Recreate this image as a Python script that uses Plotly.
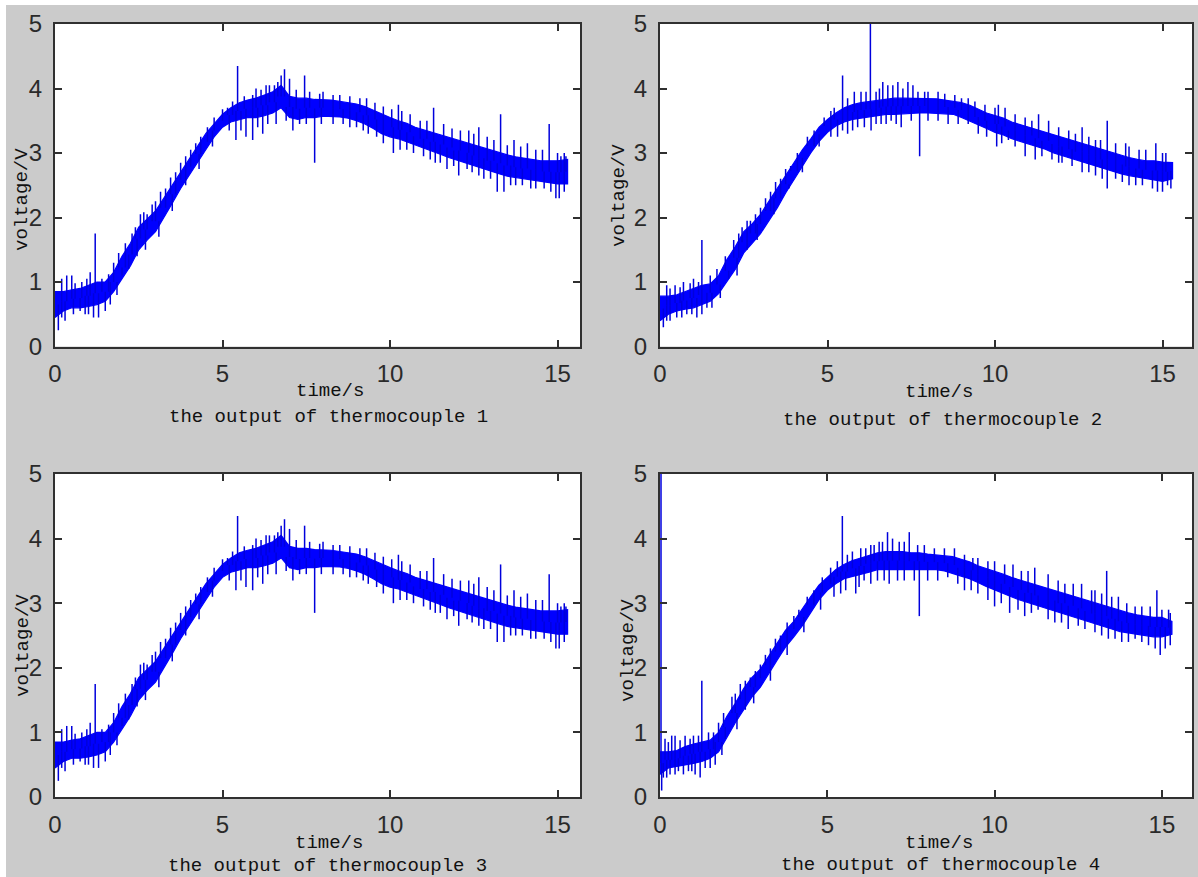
import plotly.graph_objects as go

# ---------------- data ----------------
TIME = [0.0, 0.25, 0.5, 0.75, 1.0, 1.25, 1.5, 1.75, 2.0, 2.25, 2.5, 2.75, 3.0, 3.25,
        3.5, 3.75, 4.0, 4.25, 4.5, 4.75, 5.0, 5.25, 5.5, 5.75, 6.0, 6.25, 6.5, 6.75,
        7.0, 7.25, 7.5, 7.75, 8.0, 8.25, 8.5, 8.75, 9.0, 9.25, 9.5, 9.75, 10.0, 10.25,
        10.5, 10.75, 11.0, 11.25, 11.5, 11.75, 12.0, 12.25, 12.5, 12.75, 13.0, 13.25,
        13.5, 13.75, 14.0, 14.25, 14.5, 14.75, 15.0, 15.3]

# thermocouple 1: lower / upper edge of the noise band
TC1_LOW = [0.45, 0.55, 0.60, 0.60, 0.62, 0.65, 0.70, 0.85, 1.05, 1.25, 1.50, 1.65, 1.78, 2.00,
           2.22, 2.45, 2.65, 2.85, 3.05, 3.25, 3.40, 3.48, 3.52, 3.55, 3.55, 3.58, 3.62, 3.70,
           3.55, 3.52, 3.55, 3.55, 3.57, 3.57, 3.56, 3.54, 3.50, 3.45, 3.38, 3.30, 3.25, 3.22,
           3.18, 3.12, 3.08, 3.03, 2.98, 2.93, 2.88, 2.85, 2.80, 2.76, 2.72, 2.68, 2.64, 2.62,
           2.60, 2.58, 2.55, 2.54, 2.52, 2.52]
TC1_HIGH = [0.85, 0.85, 0.88, 0.90, 0.95, 1.00, 1.00, 1.15, 1.40, 1.60, 1.85, 1.98, 2.10, 2.30,
            2.50, 2.72, 2.92, 3.12, 3.30, 3.45, 3.60, 3.70, 3.78, 3.82, 3.85, 3.90, 3.95, 4.05,
            3.88, 3.85, 3.85, 3.83, 3.83, 3.82, 3.80, 3.78, 3.76, 3.72, 3.66, 3.60, 3.55, 3.50,
            3.46, 3.40, 3.36, 3.32, 3.28, 3.24, 3.20, 3.16, 3.12, 3.08, 3.04, 3.00, 2.97, 2.94,
            2.92, 2.90, 2.88, 2.88, 2.88, 2.90]
TC1_SPIKE_T = [0.2, 0.35, 0.5, 0.8, 1.05, 1.2, 1.4, 1.9, 2.1, 2.3, 2.55, 2.75, 3.0, 3.3, 3.6,
               3.9, 4.2, 4.55, 5.15, 5.45, 5.9, 6.0, 6.3, 6.55, 6.75, 6.85, 7.0, 7.45, 8.0,
               8.3, 9.3, 10.25, 10.35, 11.3, 11.6, 12.35, 12.65, 13.3, 13.7, 14.1, 14.75,
               15.1, 15.25,
               0.1, 0.3, 0.9, 1.15, 1.3, 1.5, 2.0, 2.2, 2.7, 5.4, 5.7, 5.9, 6.2, 6.6, 7.1,
               7.3, 7.75, 8.8, 9.2, 9.6, 10.1, 10.5, 11.0, 11.35, 11.7, 12.05, 12.3, 12.8,
               13.2, 13.4, 13.75, 14.2, 14.6, 14.95, 15.05,
               0.6, 0.95, 1.6, 1.75, 2.4, 2.65, 2.9, 3.15, 3.45, 3.75, 4.05, 4.35, 4.75, 5.0,
               5.3, 5.65, 6.15, 6.4, 6.65, 7.2, 7.6, 7.9, 8.5, 8.8, 9.1, 9.55, 9.8, 10.05,
               10.6, 10.9, 11.1, 11.85, 12.1, 12.5, 12.9, 13.1, 13.5, 13.9, 14.35, 14.55,
               15.0, 15.2,
               0.2, 0.55, 0.75, 1.0, 1.65, 1.85, 2.45, 3.1, 3.5, 3.9, 4.3, 4.7, 5.2, 5.55,
               6.05, 6.35, 6.9, 7.5, 7.95, 8.3, 8.6, 9.0, 9.35, 9.8, 10.3, 10.7, 11.2, 11.5,
               11.9, 12.45, 12.65, 13.0, 13.6, 13.95, 14.35, 14.8, 15.2]
TC1_SPIKE_V = [1.05, 1.1, 1.1, 1.0, 1.15, 1.75, 1.05, 1.45, 1.6, 1.75, 2.05, 2.05, 2.25, 2.45,
               2.7, 2.95, 3.15, 3.4, 3.7, 4.35, 3.9, 4.0, 4.05, 4.05, 4.2, 4.3, 4.15, 4.2, 3.95,
               3.9, 3.85, 3.75, 3.65, 3.7, 3.45, 3.35, 3.4, 3.6, 3.2, 3.15, 3.45, 2.95, 2.95,
               0.25, 0.4, 0.5, 0.45, 0.45, 0.55, 1.1, 1.2, 1.5, 3.2, 3.25, 3.2, 3.3, 3.45,
               3.35, 3.45, 2.85, 3.4, 3.35, 3.25, 3.0, 3.05, 2.95, 2.85, 2.75, 2.65, 2.75,
               2.6, 2.4, 2.4, 2.5, 2.45, 2.45, 2.3, 2.3,
               0.98, 1.05, 1.12, 1.3, 1.85, 2.08, 2.2, 2.4, 2.62, 2.85, 3.05, 3.25, 3.55, 3.68,
               3.8, 3.88, 3.98, 4.05, 4.1, 3.98, 3.95, 3.92, 3.9, 3.88, 3.85, 3.78, 3.72, 3.68,
               3.6, 3.5, 3.5, 3.38, 3.35, 3.3, 3.25, 3.2, 3.12, 3.1, 3.05, 3.05, 3.0, 3.0,
               0.45, 0.5, 0.55, 0.5, 0.65, 0.8, 1.4, 1.7, 2.1, 2.5, 2.75, 3.1, 3.35, 3.35,
               3.4, 3.45, 3.5, 3.45, 3.45, 3.45, 3.45, 3.4, 3.3, 3.15, 3.05, 3.0, 2.9, 2.85,
               2.8, 2.7, 2.65, 2.6, 2.5, 2.5, 2.45, 2.4, 2.4]

# thermocouple 2
TC2_LOW = [0.40, 0.50, 0.55, 0.58, 0.60, 0.65, 0.70, 0.82, 1.00, 1.20, 1.45, 1.60, 1.75, 1.95,
           2.15, 2.38, 2.60, 2.80, 3.00, 3.18, 3.32, 3.42, 3.48, 3.52, 3.55, 3.56, 3.58, 3.60,
           3.60, 3.60, 3.61, 3.62, 3.62, 3.62, 3.61, 3.60, 3.55, 3.50, 3.44, 3.38, 3.32, 3.28,
           3.22, 3.18, 3.14, 3.10, 3.06, 3.00, 2.96, 2.92, 2.88, 2.84, 2.80, 2.76, 2.72, 2.68,
           2.65, 2.62, 2.60, 2.58, 2.56, 2.60]
TC2_HIGH = [0.78, 0.78, 0.80, 0.85, 0.90, 0.95, 0.97, 1.10, 1.35, 1.55, 1.78, 1.90, 2.05, 2.25,
            2.45, 2.65, 2.85, 3.05, 3.22, 3.40, 3.52, 3.62, 3.70, 3.75, 3.78, 3.80, 3.82, 3.84,
            3.85, 3.85, 3.85, 3.84, 3.84, 3.84, 3.82, 3.80, 3.78, 3.74, 3.68, 3.62, 3.58, 3.54,
            3.48, 3.44, 3.40, 3.36, 3.32, 3.28, 3.24, 3.20, 3.16, 3.12, 3.08, 3.04, 3.00, 2.96,
            2.93, 2.90, 2.88, 2.88, 2.86, 2.85]
TC2_SPIKE_T = [0.2, 0.45, 0.7, 1.0, 1.25, 1.5, 1.95, 2.2, 2.45, 2.7, 3.0, 3.3, 3.6, 3.9, 4.4,
               5.2, 5.45, 5.8, 6.0, 6.28, 6.45, 6.65, 6.8, 6.95, 7.1, 7.4, 7.55, 8.0, 8.3, 9.0,
               9.2, 10.1, 10.3, 11.3, 11.6, 12.2, 12.6, 13.0, 13.35, 13.9, 14.3, 14.8, 15.0,
               0.1, 0.3, 0.5, 0.8, 1.1, 1.25, 1.55, 2.05, 2.6, 5.3, 5.6, 5.9, 6.3, 6.6, 6.9,
               7.2, 7.75, 8.6, 9.2, 9.5, 10.05, 10.4, 10.9, 11.2, 11.7, 12.0, 12.6, 13.0,
               13.35, 13.8, 14.2, 14.7, 15.0, 15.15,
               0.3, 0.6, 0.9, 1.15, 1.7, 2.35, 2.6, 2.85, 3.15, 3.45, 3.75, 4.1, 4.6, 4.9, 5.1,
               5.6, 6.15, 6.55, 7.25, 7.7, 7.9, 8.5, 8.8, 9.4, 9.7, 10.0, 10.6, 10.9, 11.1,
               11.9, 12.4, 12.8, 13.15, 13.6, 14.0, 14.5, 15.1,
               0.2, 0.65, 0.95, 1.4, 1.8, 2.3, 2.9, 3.4, 3.85, 4.25, 4.75, 5.1, 5.45, 5.75,
               6.1, 6.45, 6.75, 7.05, 7.5, 8.0, 8.3, 8.9, 9.75, 10.2, 10.6, 11.4, 11.9, 12.3,
               12.8, 13.2, 13.6, 14.0, 14.4, 14.85, 15.25]
TC2_SPIKE_V = [0.95, 0.95, 1.0, 1.05, 1.65, 1.1, 1.4, 1.65, 1.85, 1.95, 2.15, 2.4, 2.6, 2.8,
               3.25, 3.7, 4.2, 3.95, 3.95, 5.0, 3.95, 4.1, 4.05, 4.05, 4.1, 4.1, 4.05, 3.95,
               3.95, 3.85, 3.85, 3.75, 3.7, 3.6, 3.5, 3.35, 3.4, 3.2, 3.5, 3.15, 3.05, 3.15, 3.0,
               0.3, 0.4, 0.45, 0.5, 0.45, 0.5, 0.6, 1.05, 1.5, 3.25, 3.3, 3.4, 3.35, 3.45, 3.5,
               3.4, 2.95, 3.45, 3.45, 3.3, 3.1, 3.2, 2.95, 2.9, 2.9, 2.85, 2.7, 2.65, 2.45,
               2.55, 2.5, 2.45, 2.4, 2.5,
               0.9, 0.92, 0.98, 1.0, 1.2, 1.75, 1.95, 2.05, 2.3, 2.55, 2.75, 3.0, 3.35, 3.55,
               3.65, 3.85, 3.95, 4.0, 4.0, 3.95, 3.95, 3.92, 3.9, 3.8, 3.75, 3.7, 3.6, 3.55,
               3.5, 3.4, 3.3, 3.25, 3.2, 3.15, 3.1, 3.05, 3.0,
               0.4, 0.45, 0.5, 0.6, 0.75, 1.1, 1.65, 2.05, 2.45, 2.7, 3.1, 3.25, 3.35, 3.35,
               3.4, 3.45, 3.45, 3.45, 3.5, 3.5, 3.5, 3.45, 3.25, 3.15, 3.1, 2.95, 2.85, 2.8,
               2.7, 2.6, 2.6, 2.5, 2.5, 2.4, 2.45]

# thermocouple 3 (reads the same as thermocouple 1 in the picture)
TC3_LOW = list(TC1_LOW)
TC3_HIGH = list(TC1_HIGH)
TC3_SPIKE_T = list(TC1_SPIKE_T)
TC3_SPIKE_V = list(TC1_SPIKE_V)

# thermocouple 4
TC4_LOW = [0.35, 0.45, 0.48, 0.50, 0.52, 0.55, 0.60, 0.70, 0.92, 1.15, 1.35, 1.55, 1.70, 1.90,
           2.12, 2.32, 2.48, 2.65, 2.85, 3.05, 3.20, 3.30, 3.38, 3.42, 3.45, 3.48, 3.52, 3.52,
           3.52, 3.52, 3.52, 3.52, 3.52, 3.52, 3.50, 3.46, 3.42, 3.38, 3.32, 3.26, 3.20, 3.15,
           3.10, 3.05, 3.00, 2.96, 2.92, 2.88, 2.84, 2.80, 2.76, 2.72, 2.68, 2.64, 2.60, 2.56,
           2.54, 2.52, 2.50, 2.48, 2.48, 2.52]
TC4_HIGH = [0.70, 0.70, 0.72, 0.78, 0.82, 0.85, 0.88, 1.00, 1.25, 1.45, 1.68, 1.85, 1.98, 2.18,
            2.38, 2.58, 2.72, 2.92, 3.10, 3.28, 3.40, 3.52, 3.60, 3.66, 3.70, 3.74, 3.78, 3.80,
            3.80, 3.80, 3.78, 3.78, 3.76, 3.75, 3.74, 3.72, 3.68, 3.64, 3.58, 3.54, 3.50, 3.45,
            3.40, 3.36, 3.32, 3.28, 3.24, 3.20, 3.16, 3.12, 3.08, 3.04, 3.00, 2.96, 2.92, 2.88,
            2.85, 2.82, 2.80, 2.78, 2.78, 2.72]
TC4_SPIKE_T = [0.03, 0.15, 0.35, 0.45, 0.75, 1.0, 1.25, 1.45, 1.9, 2.15, 2.4, 2.7, 3.0, 3.3, 3.6,
               4.0, 4.4, 5.1, 5.45, 5.75, 6.0, 6.3, 6.55, 6.8, 6.95, 7.15, 7.45, 7.7, 8.2, 9.1,
               9.35, 10.0, 10.55, 11.2, 11.6, 12.35, 12.6, 13.0, 13.35, 13.7, 14.2, 14.85, 15.2,
               0.05, 0.1, 0.3, 0.55, 0.85, 1.05, 1.2, 1.5, 1.95, 2.55, 5.2, 5.55, 5.85, 6.1,
               6.5, 6.85, 7.1, 7.75, 8.6, 9.1, 9.5, 10.0, 10.45, 10.9, 11.3, 11.8, 12.2, 12.5,
               13.0, 13.4, 13.8, 14.2, 14.6, 14.95, 15.1,
               0.25, 0.6, 0.9, 1.15, 1.6, 1.75, 2.25, 2.55, 2.85, 3.15, 3.45, 3.8, 4.15, 4.6,
               4.85, 5.3, 5.6, 6.15, 6.4, 6.65, 7.3, 7.9, 8.5, 8.8, 9.5, 9.8, 10.3, 10.8, 11.0,
               11.9, 12.1, 12.9, 13.2, 13.5, 13.95, 14.4, 14.65, 15.0, 15.25,
               0.2, 0.45, 0.7, 0.95, 1.35, 1.65, 1.85, 2.3, 2.8, 3.3, 3.8, 4.3, 4.8, 5.4, 5.95,
               6.3, 6.7, 7.3, 7.6, 8.0, 8.3, 8.9, 9.3, 9.8, 10.2, 10.7, 11.1, 11.6, 12.0, 12.7,
               13.2, 13.6, 14.0, 14.4, 14.8, 15.25]
TC4_SPIKE_V = [5.0, 0.9, 0.95, 0.95, 0.95, 0.95, 1.8, 1.0, 1.3, 1.55, 1.75, 1.85, 2.05, 2.3, 2.5,
               2.8, 3.1, 3.55, 4.35, 3.8, 3.85, 3.9, 3.95, 4.1, 4.0, 3.95, 4.1, 3.9, 3.85, 3.75,
               3.7, 3.65, 3.6, 3.55, 3.45, 3.3, 3.3, 3.2, 3.5, 3.1, 2.95, 3.2, 2.9,
               0.1, 0.3, 0.35, 0.4, 0.4, 0.35, 0.3, 0.45, 0.9, 1.35, 3.1, 3.2, 3.15, 3.35, 3.35,
               3.3, 3.35, 2.8, 3.4, 3.2, 3.15, 2.95, 2.85, 2.8, 2.9, 2.7, 2.6, 2.65, 2.55, 2.45,
               2.4, 2.45, 2.35, 2.2, 2.3,
               0.85, 0.88, 0.9, 0.95, 1.0, 1.15, 1.6, 1.8, 1.95, 2.2, 2.45, 2.7, 2.9, 3.2, 3.4,
               3.65, 3.75, 3.85, 3.9, 3.95, 3.95, 3.9, 3.85, 3.85, 3.7, 3.65, 3.6, 3.5, 3.5,
               3.35, 3.3, 3.2, 3.15, 3.1, 3.0, 2.95, 2.95, 2.9, 2.85,
               0.3, 0.35, 0.35, 0.4, 0.45, 0.5, 0.65, 1.05, 1.45, 1.8, 2.2, 2.55, 2.9, 3.15,
               3.25, 3.3, 3.35, 3.35, 3.35, 3.35, 3.35, 3.3, 3.2, 3.05, 3.0, 2.9, 2.85, 2.75,
               2.7, 2.6, 2.5, 2.45, 2.4, 2.4, 2.3, 2.35]

CAPTIONS = ["the output of thermocouple 1", "the output of thermocouple 2",
            "the output of thermocouple 3", "the output of thermocouple 4"]
X_LABEL = "time/s"
Y_LABEL = "voltage/V"
X_TICKS = [0, 5, 10, 15]
Y_TICKS = [0, 1, 2, 3, 4, 5]
X_MAX = [15.67, 15.88, 15.67, 15.9]
Y_RANGE = [0, 5]

SERIES = [
    (TC1_LOW, TC1_HIGH, TC1_SPIKE_T, TC1_SPIKE_V),
    (TC2_LOW, TC2_HIGH, TC2_SPIKE_T, TC2_SPIKE_V),
    (TC3_LOW, TC3_HIGH, TC3_SPIKE_T, TC3_SPIKE_V),
    (TC4_LOW, TC4_HIGH, TC4_SPIKE_T, TC4_SPIKE_V),
]

# ---------------- layout (pixel boxes) ----------------
W, H = 1198, 877
BOXES = [(55, 580, 24, 346.5), (660, 1192, 24, 346.5), (55, 580, 474, 797), (660, 1192, 474, 797)]
XLAB_POS = [(330, 391), (939, 392), (329, 843), (939, 843)]
CAP_POS = [(328, 417), (942, 420), (327, 866), (940, 865)]
YLAB_POS = [(22, 200), (619, 196), (23, 646), (628, 651)]

BLUE = "#0000ff"
SPIKE = "#0000dc"
AXC = "#303030"

fig = go.Figure()
layout = dict(
    width=W, height=H, margin=dict(l=0, r=0, t=0, b=0, pad=0, autoexpand=False),
    paper_bgcolor="#cbcbcb", plot_bgcolor="white", showlegend=False,
    annotations=[], shapes=[],
)


def px_x(p):
    return p / W


def px_y(p):
    return 1 - p / H


for i, (low, high, st, sv) in enumerate(SERIES):
    n = i + 1
    xa = "x" if n == 1 else f"x{n}"
    ya = "y" if n == 1 else f"y{n}"
    # noise band
    fig.add_trace(go.Scatter(
        x=TIME + TIME[::-1], y=high + low[::-1], mode="lines", fill="toself",
        fillcolor=BLUE, line=dict(color=BLUE, width=1.2), xaxis=xa, yaxis=ya,
        hoverinfo="skip"))
    # spikes out of the band
    sx, sy = [], []
    for t, v in zip(st, sv):
        k = min(range(len(TIME)), key=lambda j: abs(TIME[j] - t))
        base = (low[k] + high[k]) / 2
        sx += [t, t, None]
        sy += [base, v, None]
    fig.add_trace(go.Scatter(x=sx, y=sy, mode="lines", line=dict(color=SPIKE, width=1.5),
                             xaxis=xa, yaxis=ya, hoverinfo="skip"))

    l, r, t, b = BOXES[i]
    common = dict(showgrid=False, zeroline=False, showline=True, linecolor=AXC, linewidth=2,
                  mirror="ticks", ticks="inside", ticklen=7, tickwidth=1.5, tickcolor=AXC,
                  automargin=False,
                  tickfont=dict(family="Liberation Sans, Arial", size=24, color="#2a2a2a"))
    layout["xaxis" if n == 1 else f"xaxis{n}"] = dict(
        domain=[px_x(l), px_x(r)], range=[0, X_MAX[i]], tickvals=X_TICKS,
        anchor=ya, ticklabelstandoff=5, **common)
    layout["yaxis" if n == 1 else f"yaxis{n}"] = dict(
        domain=[px_y(b), px_y(t)], range=Y_RANGE, tickvals=Y_TICKS,
        anchor=xa, ticklabelstandoff=6, **common)

    mono = dict(family="Liberation Mono, DejaVu Sans Mono, monospace", size=19, color="#111")
    ax_, ay_ = XLAB_POS[i]
    layout["annotations"].append(dict(text=X_LABEL, x=px_x(ax_), y=px_y(ay_), xref="paper",
                                      yref="paper", showarrow=False, font=mono,
                                      xanchor="center", yanchor="middle"))
    cx, cy = CAP_POS[i]
    layout["annotations"].append(dict(text=CAPTIONS[i], x=px_x(cx), y=px_y(cy), xref="paper",
                                      yref="paper", showarrow=False, font=mono,
                                      xanchor="center", yanchor="middle"))
    vx, vy = YLAB_POS[i]
    layout["annotations"].append(dict(text=Y_LABEL, x=px_x(vx), y=px_y(vy), xref="paper",
                                      yref="paper", showarrow=False, font=mono, textangle=-90,
                                      xanchor="center", yanchor="middle"))

# thin white border of the figure (left and top)
layout["shapes"].append(dict(type="rect", xref="paper", yref="paper", x0=0, x1=px_x(6),
                             y0=0, y1=1, fillcolor="white", line=dict(width=0), layer="below"))
layout["shapes"].append(dict(type="rect", xref="paper", yref="paper", x0=0, x1=1,
                             y0=px_y(5), y1=1, fillcolor="white", line=dict(width=0), layer="below"))

fig.update_layout(**layout)
fig.write_html("out.html", config={"displayModeBar": False},
               post_script="document.body.style.margin='0px';"
                           "document.documentElement.style.overflow='hidden';")
